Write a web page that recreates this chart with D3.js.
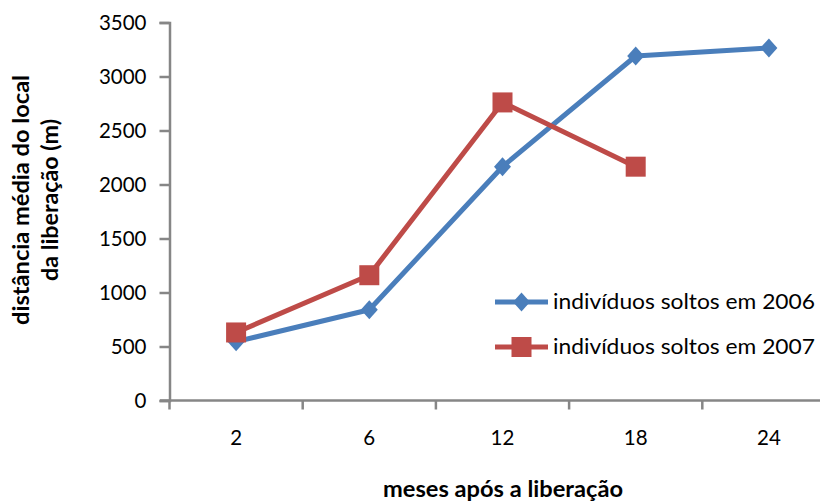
<!DOCTYPE html>
<html>
<head>
<meta charset="utf-8">
<script src="https://cdn.jsdelivr.net/npm/d3@7"></script>
<style>
  html, body { margin: 0; padding: 0; background: #fff; }
  svg { display: block; }
  text { font-family: Lato, "Open Sans", sans-serif; fill: #000; }
</style>
</head>
<body>
<svg id="chart" width="820" height="501"></svg>
<script>
// Months after release (categories)
const months = ["2", "6", "12", "18", "24"];
// Mean distance from release site (m)
const released2006 = [545, 840, 2165, 3190, 3265];
const released2007 = [630, 1160, 2760, 2165];
const yTicks = [0, 500, 1000, 1500, 2000, 2500, 3000, 3500];
const seriesNames = ["indivíduos soltos em 2006", "indivíduos soltos em 2007"];

const svg = d3.select("#chart");
const axisColor = "#868686";
const blue = "#4A7EBB";
const red = "#BE4B48";

const x = d3.scaleBand().domain(months).range([169.5, 835.5]).paddingInner(0).paddingOuter(0);
const y = d3.scaleLinear().domain([0, 3500]).range([400.5, 22.5]);

// Y axis
const yAxis = d3.axisLeft(y).tickValues(yTicks).tickSize(10).tickPadding(13).tickFormat(d3.format("d"));
const gy = svg.append("g").attr("transform", "translate(169.5,0)").call(yAxis);
gy.select(".domain").attr("stroke", axisColor).attr("stroke-width", 2.5);
gy.selectAll(".tick line").attr("stroke", axisColor).attr("stroke-width", 2.5);
gy.selectAll(".tick text").style("font-size", "20.5px").style("font-family", "Lato, sans-serif").attr("fill", "#000");

// X axis with ticks at category boundaries
const gx = svg.append("g").attr("transform", "translate(0,400.5)");
gx.append("line").attr("x1", 160).attr("x2", 835.5).attr("stroke", axisColor).attr("stroke-width", 2.5);
const bounds = months.map(m => x(m)).concat([x(months[months.length - 1]) + x.bandwidth()]);
gx.selectAll("line.tk").data(bounds).enter().append("line").attr("class", "tk")
  .attr("x1", d => d).attr("x2", d => d).attr("y1", 0).attr("y2", 9)
  .attr("stroke", axisColor).attr("stroke-width", 2.5);
gx.selectAll("text").data(months).enter().append("text")
  .attr("x", d => x(d) + x.bandwidth() / 2).attr("y", 44)
  .attr("text-anchor", "middle").style("font-size", "20.5px").text(d => d);

const cx = d => x(d) + x.bandwidth() / 2;

// Lines
const line = d3.line().x(d => cx(d.m)).y(d => y(d.v));
const s2006 = months.map((m, i) => ({ m, v: released2006[i] }));
const s2007 = months.slice(0, released2007.length).map((m, i) => ({ m, v: released2007[i] }));

svg.append("path").datum(s2006).attr("d", line).attr("fill", "none")
  .attr("stroke", blue).attr("stroke-width", 5).attr("stroke-linejoin", "round");
svg.append("path").datum(s2007).attr("d", line).attr("fill", "none")
  .attr("stroke", red).attr("stroke-width", 5).attr("stroke-linejoin", "round");

// Markers
const diamond = "M0,-9.5L8.5,0L0,9.5L-8.5,0Z";
svg.selectAll("path.dm").data(s2006).enter().append("path").attr("class", "dm")
  .attr("d", diamond).attr("transform", d => `translate(${cx(d.m)},${y(d.v)})`).attr("fill", blue);
svg.selectAll("rect.sq").data(s2007).enter().append("rect").attr("class", "sq")
  .attr("x", d => cx(d.m) - 10).attr("y", d => y(d.v) - 10).attr("width", 20).attr("height", 20).attr("fill", red);

// Legend
const legend = svg.append("g");
const legY = [302, 347];
const colors = [blue, red];
seriesNames.forEach((name, i) => {
  legend.append("line").attr("x1", 495).attr("x2", 548).attr("y1", legY[i]).attr("y2", legY[i])
    .attr("stroke", colors[i]).attr("stroke-width", 5);
  if (i === 0) {
    legend.append("path").attr("d", diamond).attr("transform", `translate(521.5,${legY[i]})`).attr("fill", blue);
  } else {
    legend.append("rect").attr("x", 511.5).attr("y", legY[i] - 10).attr("width", 20).attr("height", 20).attr("fill", red);
  }
  legend.append("text").attr("x", 553).attr("y", legY[i] + 7).style("font-size", "21px")
    .attr("textLength", 262).attr("lengthAdjust", "spacingAndGlyphs").text(name);
});

// Axis titles
svg.append("text").attr("x", 503).attr("y", 497).attr("text-anchor", "middle")
  .style("font-size", "22px").style("font-weight", "bold")
  .attr("textLength", 240).attr("lengthAdjust", "spacingAndGlyphs").text("meses após a liberação");

const yt = svg.append("g").attr("transform", "translate(0,200) rotate(-90)");
yt.append("text").attr("x", 0).attr("y", 29).attr("text-anchor", "middle")
  .style("font-size", "23px").style("font-weight", "bold")
  .attr("textLength", 250).attr("lengthAdjust", "spacingAndGlyphs").text("distância média do local");
yt.append("text").attr("x", 0).attr("y", 58).attr("text-anchor", "middle")
  .style("font-size", "23px").style("font-weight", "bold")
  .attr("textLength", 162).attr("lengthAdjust", "spacingAndGlyphs").text("da liberação (m)");
</script>
</body>
</html>
